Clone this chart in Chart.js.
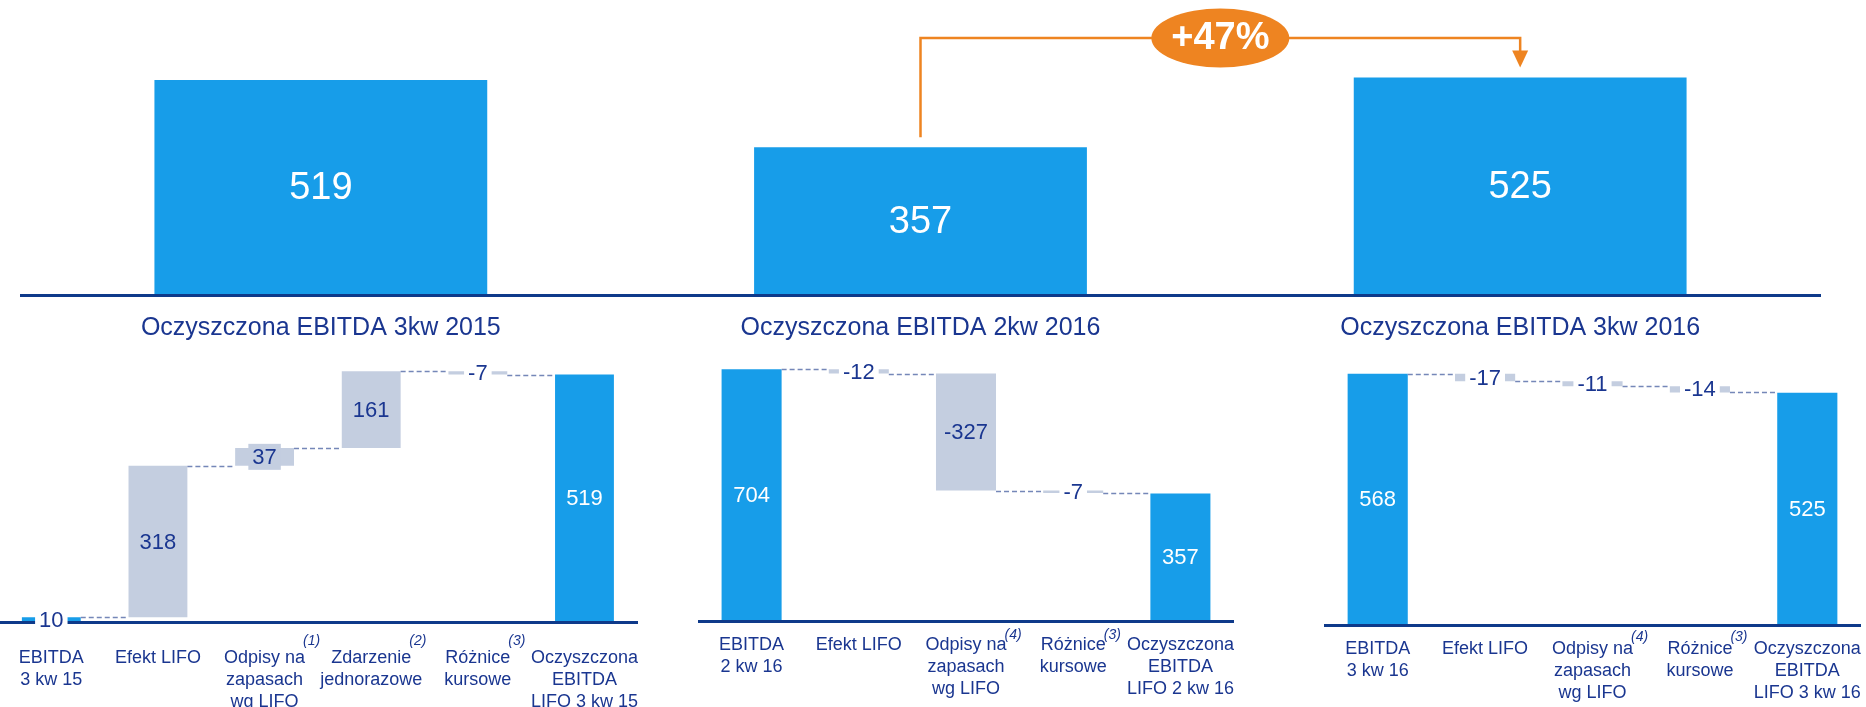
<!DOCTYPE html>
<html>
<head>
<meta charset="utf-8">
<script src="https://cdn.jsdelivr.net/npm/chart.js@4.4.0/dist/chart.umd.min.js"></script>
<style>
  html, body { margin: 0; padding: 0; background: #fff; width: 1866px; height: 707px; overflow: hidden; }
  .box { position: absolute; }
</style>
</head>
<body>
<div class="box" style="left:0;top:0;width:1866px;height:342px"><canvas id="topChart"></canvas></div>
<div class="box" style="left:-2px;top:330px;width:640px;height:383px"><canvas id="wf1"></canvas></div>
<div class="box" style="left:698px;top:330px;width:536px;height:370px"><canvas id="wf2"></canvas></div>
<div class="box" style="left:1324px;top:330px;width:537px;height:374px"><canvas id="wf3"></canvas></div>
<script>
// data
const topLabels = ['Oczyszczona EBITDA 3kw 2015', 'Oczyszczona EBITDA 2kw 2016', 'Oczyszczona EBITDA 3kw 2016'];
const topValues = [519, 357, 525];

const wf1Labels = [['EBITDA', '3 kw 15'], ['Efekt LIFO'], ['Odpisy na', 'zapasach', 'wg LIFO'], ['Zdarzenie', 'jednorazowe'], ['Różnice', 'kursowe'], ['Oczyszczona', 'EBITDA', 'LIFO 3 kw 15']];
const wf1Notes = ['', '', '(1)', '(2)', '(3)', ''];
const wf1Values = [10, 318, 37, 161, -7, 519];

const wf2Labels = [['EBITDA', '2 kw 16'], ['Efekt LIFO'], ['Odpisy na', 'zapasach', 'wg LIFO'], ['Różnice', 'kursowe'], ['Oczyszczona', 'EBITDA', 'LIFO 2 kw 16']];
const wf2Notes = ['', '', '(4)', '(3)', ''];
const wf2Values = [704, -12, -327, -7, 357];

const wf3Labels = [['EBITDA', '3 kw 16'], ['Efekt LIFO'], ['Odpisy na', 'zapasach', 'wg LIFO'], ['Różnice', 'kursowe'], ['Oczyszczona', 'EBITDA', 'LIFO 3 kw 16']];
const wf3Notes = ['', '', '(4)', '(3)', ''];
const wf3Values = [568, -17, -11, -14, 525];

const FONT = "'Liberation Sans', Arial, sans-serif";
const DARK = '#1a3690';
const BLUE = '#179de9';
const GREY = '#c4cee0';
const AXIS = '#0e3a8a';
const ORANGE = '#ee8421';

Chart.defaults.font.family = FONT;
Chart.defaults.animation = false;

// top chart: labels inside bars + growth arrow
const topDecor = {
  id: 'topDecor',
  afterDraw(chart) {
    const ctx = chart.ctx;
    const bars = chart.getDatasetMeta(0).data;
    ctx.save();
    ctx.font = '38px ' + FONT;
    ctx.fillStyle = '#fff';
    ctx.textAlign = 'center';
    ctx.textBaseline = 'middle';
    bars.forEach((b, i) => ctx.fillText(String(topValues[i]), b.x, (b.y + b.base) / 2 + 1));

    const a = bars[1], c = bars[2];
    const lineY = chart.chartArea.top + 33;
    ctx.strokeStyle = ORANGE;
    ctx.lineWidth = 2.5;
    ctx.beginPath();
    ctx.moveTo(a.x, a.y - 10);
    ctx.lineTo(a.x, lineY);
    ctx.lineTo(c.x, lineY);
    ctx.lineTo(c.x, c.y - 26);
    ctx.stroke();
    ctx.fillStyle = ORANGE;
    ctx.beginPath();
    ctx.moveTo(c.x - 8, c.y - 27);
    ctx.lineTo(c.x + 8, c.y - 27);
    ctx.lineTo(c.x, c.y - 10);
    ctx.closePath();
    ctx.fill();

    const cx = (a.x + c.x) / 2;
    ctx.beginPath();
    ctx.ellipse(cx, lineY, 69, 29.5, 0, 0, Math.PI * 2);
    ctx.fill();
    const pct = Math.round((topValues[2] / topValues[1] - 1) * 100);
    ctx.fillStyle = '#fff';
    ctx.font = 'bold 38px ' + FONT;
    ctx.fillText('+' + pct + '%', cx, lineY + 1);
    ctx.restore();
  }
};

new Chart(document.getElementById('topChart'), {
  type: 'bar',
  data: {
    labels: topLabels,
    datasets: [{ data: topValues, backgroundColor: BLUE, barPercentage: 1, categoryPercentage: 0.555 }]
  },
  options: {
    responsive: true,
    maintainAspectRatio: false,
    layout: { padding: { left: 21, right: 46, top: 5, bottom: 0 } },
    plugins: { legend: { display: false }, tooltip: { enabled: false } },
    scales: {
      x: {
        grid: { display: true, color: 'transparent', drawOnChartArea: false, tickLength: 18 },
        border: { display: true, color: AXIS, width: 3, z: 1 },
        ticks: { color: DARK, padding: 0, font: { size: 25, lineHeight: 1.15 }, maxRotation: 0, autoSkip: false }
      },
      y: { display: false, min: 0, max: 700 }
    }
  },
  plugins: [topDecor]
});

// waterfall helper
function makeWaterfall(id, labels, notes, values, yMax, padTop, tickGap, noteRaise, catPct) {
  const last = values.length - 1;
  const ranges = [];
  const levels = [];
  let run = 0;
  values.forEach((v, i) => {
    if (i === 0 || i === last) {
      ranges.push([0, v]);
      run = v;
    } else {
      ranges.push([run, run + v]);
      run += v;
    }
    levels.push(run);
  });
  const colors = values.map((v, i) => (i === 0 || i === last) ? BLUE : GREY);

  const decor = {
    id: 'wfDecor',
    afterDraw(chart) {
      const ctx = chart.ctx;
      const bars = chart.getDatasetMeta(0).data;
      const y = chart.scales.y;
      const x = chart.scales.x;
      ctx.save();
      // dashed connectors
      ctx.strokeStyle = '#7587b8';
      ctx.lineWidth = 1.5;
      ctx.setLineDash([5, 3]);
      for (let i = 0; i < bars.length - 1; i++) {
        const a = bars[i], b = bars[i + 1];
        const ly = Math.round(y.getPixelForValue(levels[i])) + 0.5;
        ctx.beginPath();
        ctx.moveTo(a.x + a.width / 2, ly);
        ctx.lineTo(b.x - b.width / 2, ly);
        ctx.stroke();
      }
      ctx.setLineDash([]);
      // value labels
      ctx.font = '22px ' + FONT;
      ctx.textAlign = 'center';
      ctx.textBaseline = 'middle';
      bars.forEach((b, i) => {
        const top = Math.min(b.y, b.base), bot = Math.max(b.y, b.base);
        const h = bot - top, cy = (top + bot) / 2;
        const txt = String(values[i]);
        const w = ctx.measureText(txt).width;
        let col = (i === 0 || i === last) ? '#fff' : DARK;
        if (h < 10) {
          ctx.fillStyle = '#fff';
          ctx.fillRect(b.x - w / 2 - 4, cy - 12, w + 8, 24);
          col = DARK;
        } else if (h < 28) {
          ctx.fillStyle = colors[i];
          ctx.fillRect(b.x - w / 2 - 4, cy - 13, w + 8, 26);
        }
        ctx.fillStyle = col;
        ctx.fillText(txt, b.x, cy + 1);
      });
      // footnote markers
      ctx.textAlign = 'left';
      const lineY = x.top + tickGap + 11;
      notes.forEach((n, i) => {
        if (!n) return;
        ctx.font = '18px ' + FONT;
        const lw = ctx.measureText(labels[i][0]).width;
        ctx.font = 'italic 14px ' + FONT;
        ctx.fillStyle = DARK;
        ctx.fillText(n, x.getPixelForValue(i) + lw / 2 - 2, lineY - noteRaise);
      });
      ctx.restore();
    }
  };

  return new Chart(document.getElementById(id), {
    type: 'bar',
    data: {
      labels: labels,
      datasets: [{ data: ranges, backgroundColor: colors, barPercentage: 1, categoryPercentage: catPct }]
    },
    options: {
      responsive: true,
      maintainAspectRatio: false,
      layout: { padding: { left: 0, right: 0, top: padTop, bottom: 0 } },
      plugins: { legend: { display: false }, tooltip: { enabled: false } },
      scales: {
        x: {
          grid: { display: true, color: 'transparent', drawOnChartArea: false, tickLength: tickGap },
          border: { display: true, color: AXIS, width: 3, z: 1 },
          ticks: { color: DARK, padding: 0, font: { size: 18, lineHeight: 1.222 }, maxRotation: 0, autoSkip: false }
        },
        y: { display: false, min: 0, max: yMax }
      }
    },
    plugins: [decor]
  });
}

makeWaterfall('wf1', wf1Labels, wf1Notes, wf1Values, 600, 6, 25, 17, 0.552);
makeWaterfall('wf2', wf2Labels, wf2Notes, wf2Values, 800, 5, 13, 10, 0.56);
makeWaterfall('wf3', wf3Labels, wf3Notes, wf3Values, 640, 12, 13, 12, 0.56);
</script>
</body>
</html>
